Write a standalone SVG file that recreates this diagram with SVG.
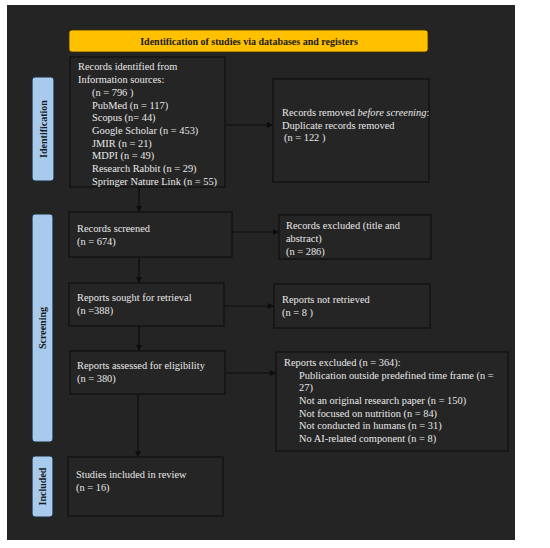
<svg xmlns="http://www.w3.org/2000/svg" width="550" height="548" viewBox="0 0 550 548">
<style>
.box{fill:#252525;stroke:#111;stroke-width:1.3}
.lab{fill:#a8cbed;stroke:#1a2a3a;stroke-width:1.2}
.t{font-family:"Liberation Serif","DejaVu Serif",serif;font-size:10.4px;fill:#e8e8e8}
.lt{font-family:"Liberation Serif","DejaVu Serif",serif;font-size:10px;font-weight:bold;fill:#1a1a1a}
.con{stroke:#0d0d0d;stroke-width:1.2;fill:none;marker-end:url(#ah)}
</style>
<defs>
<marker id="ah" viewBox="0 0 10 10" refX="10" refY="5" markerWidth="5" markerHeight="5" orient="auto" markerUnits="strokeWidth">
<path d="M0,0 L10,5 L0,10 z" fill="#0d0d0d"/>
</marker>
</defs>
<rect x="0" y="0" width="550" height="548" fill="#ffffff"/>
<rect x="7" y="5" width="508" height="535" fill="#242424"/>

<g id="header">
<rect x="69" y="30" width="359" height="22" rx="3" fill="#ffc000" stroke="#3a2e00" stroke-width="0.8"/>
<text class="lt" x="249" y="45" text-anchor="middle" font-size="9.5">Identification of studies via databases and registers</text>
</g>

<g id="label-identification">
<rect class="lab" x="32" y="77" width="22" height="104" rx="3"/>
<text class="lt" transform="translate(46.5,129) rotate(-90)" text-anchor="middle">Identification</text>
</g>
<g id="label-screening">
<rect class="lab" x="32" y="214" width="21" height="228" rx="3"/>
<text class="lt" transform="translate(46,328) rotate(-90)" text-anchor="middle">Screening</text>
</g>
<g id="label-included">
<rect class="lab" x="32" y="456" width="21" height="61" rx="3"/>
<text class="lt" transform="translate(46,486.5) rotate(-90)" text-anchor="middle">Included</text>
</g>

<g id="connectors">
<line class="con" x1="225" y1="125" x2="273" y2="125"/>
<line class="con" x1="139" y1="187" x2="139" y2="212"/>
<line class="con" x1="232" y1="232" x2="279" y2="232"/>
<line class="con" x1="139" y1="257" x2="139" y2="283"/>
<line class="con" x1="224" y1="306" x2="274" y2="306"/>
<line class="con" x1="139" y1="326" x2="139" y2="351"/>
<line class="con" x1="225" y1="373" x2="276" y2="373"/>
<line class="con" x1="138" y1="394" x2="138" y2="457"/>
</g>

<g id="records-identified">
<rect class="box" x="70" y="57" width="155" height="130"/>
<text class="t" x="78" y="70">Records identified from</text>
<text class="t" x="78" y="83">Information sources:</text>
<text class="t" x="92" y="96">(n = 796 )</text>
<text class="t" x="92" y="108.5">PubMed (n = 117)</text>
<text class="t" x="92" y="121">Scopus (n= 44)</text>
<text class="t" x="92" y="134">Google Scholar (n = 453)</text>
<text class="t" x="92" y="146.5">JMIR (n = 21)</text>
<text class="t" x="92" y="159">MDPI (n = 49)</text>
<text class="t" x="92" y="172">Research Rabbit (n = 29)</text>
<text class="t" x="92" y="184.5">Springer Nature Link (n = 55)</text>
</g>

<g id="records-removed">
<rect class="box" x="273" y="79" width="156" height="103"/>
<text class="t" x="282" y="116">Records removed <tspan font-style="italic">before screening</tspan>:</text>
<text class="t" x="282" y="128.5">Duplicate records removed</text>
<text class="t" x="284" y="141">(n = 122 )</text>
</g>

<g id="records-screened">
<rect class="box" x="69" y="212" width="163" height="45"/>
<text class="t" x="77" y="232">Records screened</text>
<text class="t" x="77" y="245">(n = 674)</text>
</g>

<g id="records-excluded">
<rect class="box" x="279" y="215" width="152" height="44"/>
<text class="t" x="286" y="229">Records excluded (title and</text>
<text class="t" x="286" y="242">abstract)</text>
<text class="t" x="286" y="255">(n = 286)</text>
</g>

<g id="reports-sought">
<rect class="box" x="69" y="283" width="155" height="43"/>
<text class="t" x="77" y="301">Reports sought for retrieval</text>
<text class="t" x="77" y="314">(n =388)</text>
</g>

<g id="reports-not-retrieved">
<rect class="box" x="274" y="284" width="156" height="44"/>
<text class="t" x="282" y="303">Reports not retrieved</text>
<text class="t" x="282" y="315.5">(n = 8 )</text>
</g>

<g id="reports-assessed">
<rect class="box" x="70" y="351" width="155" height="43"/>
<text class="t" x="77" y="369">Reports assessed for eligibility</text>
<text class="t" x="77" y="382">(n = 380)</text>
</g>

<g id="reports-excluded">
<rect class="box" x="276" y="352" width="232" height="99"/>
<text class="t" x="284" y="366">Reports excluded (n = 364):</text>
<text class="t" x="299" y="378.5">Publication outside predefined time frame (n =</text>
<text class="t" x="299" y="391">27)</text>
<text class="t" x="299" y="404">Not an original research paper (n = 150)</text>
<text class="t" x="299" y="416.5">Not focused on nutrition (n = 84)</text>
<text class="t" x="299" y="429">Not conducted in humans (n = 31)</text>
<text class="t" x="299" y="441.5">No AI-related component (n = 8)</text>
</g>

<g id="studies-included">
<rect class="box" x="68" y="457" width="155" height="59"/>
<text class="t" x="76" y="478">Studies included in review</text>
<text class="t" x="76" y="491">(n = 16)</text>
</g>
</svg>
